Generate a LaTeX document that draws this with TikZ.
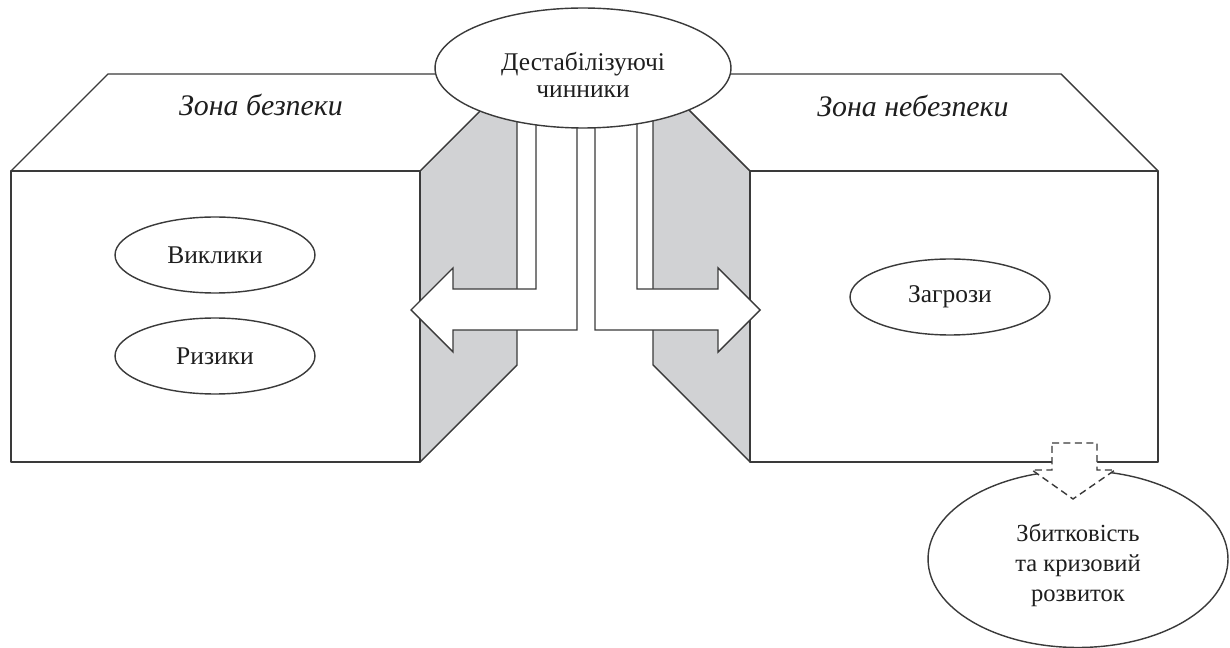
\documentclass[tikz,border=0pt]{standalone}
\usepackage{fontspec}
\setmainfont{Liberation Serif}
\usepackage{xcolor}
\definecolor{linedark}{HTML}{3A3A3A}
\definecolor{sidegrey}{HTML}{D1D2D4}
\definecolor{textdark}{HTML}{1E1E1E}
\usetikzlibrary{shapes.geometric}
\tikzset{
  face/.style={draw=linedark, line width=0.8pt, fill=white, line join=round},
  sideface/.style={draw=linedark, line width=0.8pt, fill=sidegrey, line join=round},
  blockarrow/.style={draw=linedark, line width=0.8pt, fill=white, line join=miter},
  oval/.style={ellipse, draw=linedark, line width=0.8pt, fill=white, inner sep=0pt,
    font=\fontsize{14.5}{17.5}\selectfont, text=textdark, align=center},
  ovaltext/.style={inner sep=0pt, text=textdark, align=center},
  zonelabel/.style={font=\fontsize{17}{20}\selectfont\itshape, text=textdark}
}

\begin{document}
\begin{tikzpicture}[x=0.02cm, y=-0.02cm]
  \useasboundingbox (0,0) rectangle (1230,648);
  \draw[sideface] (420,171) -- (517,74) -- (517,365) -- (420,462) -- cycle;
  \draw[face] (11,171) -- (108,74) -- (517,74) -- (420,171) -- cycle;
  \draw[face] (11,171) rectangle (420,462);
  \draw[sideface] (750,171) -- (653,74) -- (653,365) -- (750,462) -- cycle;
  \draw[face] (750,171) -- (653,74) -- (1061,74) -- (1158,171) -- cycle;
  \draw[face] (750,171) rectangle (1158,462);
  \node[zonelabel] (safe) at (261,105) {Зона безпеки};
  \node[zonelabel] (danger) at (913,106) {Зона небезпеки};
  \draw[blockarrow] (536,110) -- (536,289) -- (453,289) -- (453,268) -- (411,310)
    -- (453,352) -- (453,330) -- (577,330) -- (577,110) -- cycle;
  \draw[blockarrow] (595,110) -- (595,330) -- (718,330) -- (718,352) -- (760,310)
    -- (718,268) -- (718,289) -- (637,289) -- (637,110) -- cycle;
  \node[oval, minimum width=5.92cm, minimum height=2.4cm] (factors) at (583,68) {};
  \node[ovaltext, font=\fontsize{14.5}{15}\selectfont] (factorstext) at (583,75)
    {Дестабілізуючі\\чинники};
  \node[oval, minimum width=4cm, minimum height=1.52cm] (challenges) at (215,255) {Виклики};
  \node[oval, minimum width=4cm, minimum height=1.52cm] (risks) at (215,356) {Ризики};
  \node[oval, minimum width=4cm, minimum height=1.52cm] (threats) at (950,297) {Загрози};
  \node[oval, minimum width=6cm, minimum height=3.54cm] (crisis) at (1078,559) {};
  \node[ovaltext, font=\fontsize{14}{17}\selectfont] (crisistext) at (1078,565)
    {Збитковість\\та кризовий\\розвиток};
  \draw[blockarrow, dash pattern=on 4pt off 2.5pt] (1052,443) -- (1097,443) -- (1097,470)
    -- (1115,470) -- (1073,499) -- (1032,470) -- (1052,470) -- cycle;
\end{tikzpicture}
\end{document}
